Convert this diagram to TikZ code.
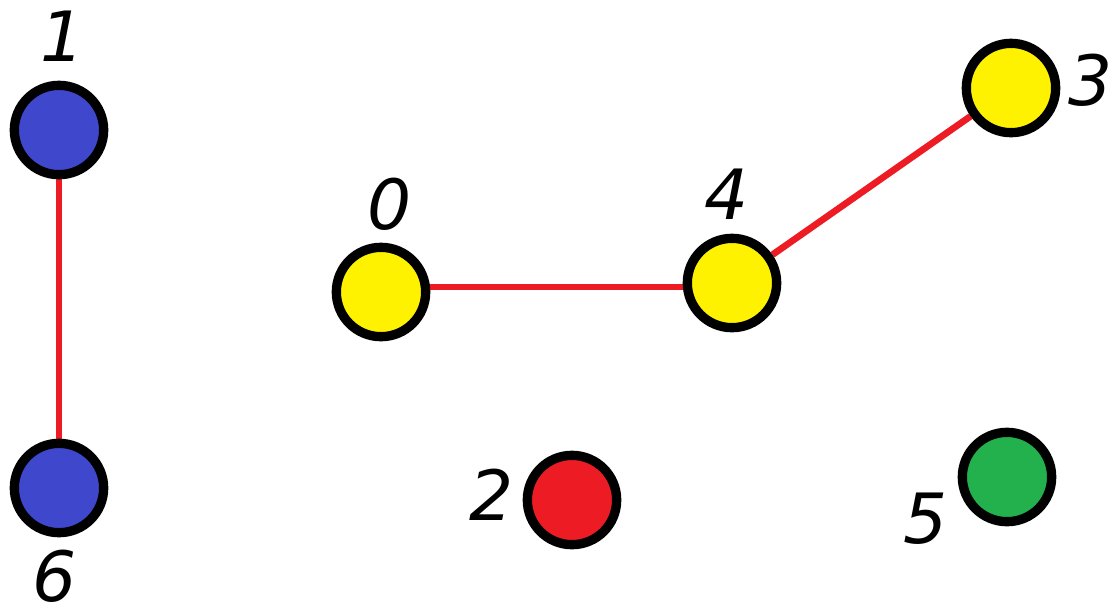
\documentclass[tikz,border=0pt]{standalone}
\usepackage{fontspec}
\setmainfont{DejaVu Sans}
\usetikzlibrary{backgrounds}
\definecolor{pblue}{HTML}{3F48CC}
\definecolor{pyellow}{HTML}{FFF200}
\definecolor{pgreen}{HTML}{22B14C}
\definecolor{pred}{HTML}{ED1C24}
\begin{document}
\begin{tikzpicture}[x=0.75pt,y=-0.75pt,
  vert/.style={circle,draw=black,line width=7pt,minimum size=67pt,inner sep=0pt},
  lbl/.style={font=\fontsize{52}{56}\selectfont\itshape,inner sep=0pt},
  edge/.style={draw=pred,line width=5pt}]
\useasboundingbox (0,0) rectangle (1118,615);
\node[vert,fill=pblue] (n1) at (59,130) {};
\node[vert,fill=pblue] (n6) at (59,488) {};
\node[vert,fill=pyellow] (n0) at (381,292) {};
\node[vert,fill=pyellow] (n4) at (732,283) {};
\node[vert,fill=pyellow] (n3) at (1011,88) {};
\node[vert,fill=pred] (n2) at (572,500) {};
\node[vert,fill=pgreen] (n5) at (1007,477) {};
\coordinate (e0) at (381,287);
\coordinate (e4) at (732,287);
\begin{scope}[on background layer]
\draw[edge] (n1) -- (n6);
\draw[edge] (e0) -- (e4);
\draw[edge] (n4) -- (n3);
\end{scope}
\node[lbl] (l1) at (63,36) {1};
\node[lbl] (l6) at (55,576) {6};
\node[lbl] (l0) at (390,204) {0};
\node[lbl] (l4) at (727,194) {4};
\node[lbl] (l3) at (1091,80) {3};
\node[lbl] (l2) at (492,495) {2};
\node[lbl] (l5) at (926,519) {5};
\end{tikzpicture}
\end{document}
